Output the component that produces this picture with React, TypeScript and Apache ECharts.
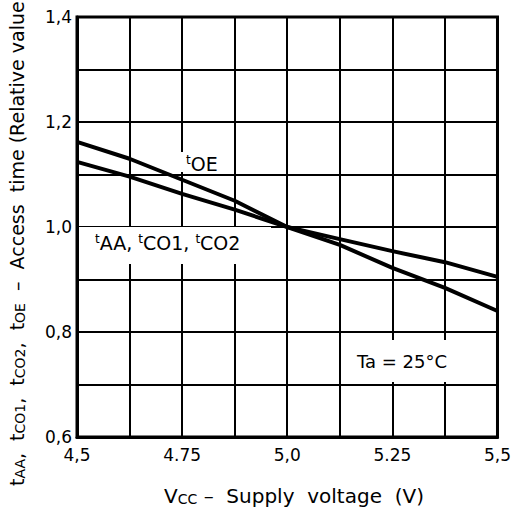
import React, { useEffect, useRef } from "react";
import * as echarts from "echarts";

const VOLTAGES = [4.5, 4.625, 4.75, 4.875, 5.0, 5.125, 5.25, 5.375, 5.5];
const T_OE = [1.162, 1.13, 1.09, 1.05, 1.0, 0.966, 0.922, 0.884, 0.84];
const T_AA = [1.124, 1.096, 1.063, 1.033, 1.0, 0.977, 0.954, 0.933, 0.905];

const X_TICKS = [4.5, 4.75, 5.0, 5.25, 5.5];
const X_TICK_LABELS = ["4,5", "4.75", "5,0", "5.25", "5,5"];
const Y_TICKS = [0.6, 0.8, 1.0, 1.2, 1.4];
const Y_TICK_LABELS = ["0,6", "0,8", "1,0", "1,2", "1,4"];

const FONT = "DejaVu Sans, Liberation Sans, sans-serif";

function lookup(v: number, ticks: number[], labels: string[]) {
  for (let i = 0; i < ticks.length; i++) {
    if (Math.abs(v - ticks[i]) < 1e-6) return labels[i];
  }
  return "";
}

export default function App() {
  const ref = useRef<HTMLDivElement>(null);
  useEffect(() => {
    if (!ref.current) return;
    const chart = echarts.init(ref.current, null, { renderer: "svg" });
    const big = { fontSize: 19, fontFamily: FONT, color: "#000", verticalAlign: "bottom" as const };
    const small = { fontSize: 14, fontFamily: FONT, color: "#000", verticalAlign: "bottom" as const };
    const xbig = { fontSize: 20, fontFamily: FONT, color: "#000", verticalAlign: "bottom" as const };
    const lbl = { fontSize: 19, fontFamily: FONT, color: "#000", verticalAlign: "top" as const };
    const sup = { fontSize: 12, fontFamily: FONT, color: "#000", verticalAlign: "top" as const };
    chart.setOption({
      animation: false,
      backgroundColor: "#fff",
      grid: {
        left: 77,
        right: 14,
        top: 17,
        bottom: 71,
        show: true,
        borderColor: "#000",
        borderWidth: 3,
        backgroundColor: "transparent",
      },
      xAxis: {
        type: "value",
        min: 4.5,
        max: 5.5,
        interval: 0.125,
        axisLine: { show: true, lineStyle: { color: "#000", width: 3 } },
        axisTick: { show: false },
        splitLine: { show: true, lineStyle: { color: "#000", width: 2 } },
        axisLabel: {
          margin: 9,
          color: "#000",
          fontSize: 17,
          fontFamily: FONT,
          formatter: (v: number) => lookup(v, X_TICKS, X_TICK_LABELS),
        },
      },
      yAxis: {
        type: "value",
        min: 0.6,
        max: 1.4,
        interval: 0.1,
        axisLine: { show: true, lineStyle: { color: "#000", width: 3 } },
        axisTick: { show: false },
        splitLine: { show: true, lineStyle: { color: "#000", width: 2 } },
        axisLabel: {
          margin: 5,
          color: "#000",
          fontSize: 17,
          fontFamily: FONT,
          formatter: (v: number) => lookup(v, Y_TICKS, Y_TICK_LABELS),
        },
      },
      series: [
        {
          name: "tOE",
          type: "line",
          data: VOLTAGES.map((v, i) => [v, T_OE[i]]),
          showSymbol: false,
          lineStyle: { color: "#000", width: 4 },
          z: 5,
        },
        {
          name: "tAA",
          type: "line",
          data: VOLTAGES.map((v, i) => [v, T_AA[i]]),
          showSymbol: false,
          lineStyle: { color: "#000", width: 4 },
          z: 5,
        },
      ],
      graphic: [
        {
          type: "text",
          x: 17,
          y: 486,
          rotation: Math.PI / 2,
          z: 50,
          style: {
            text:
              "{b|t}{s|AA}{b|,  t}{s|CO1}{b|,  t}{s|CO2}{b|,  t}{s|OE}{b|  –  Access  time (Relative value)}",
            rich: { b: big, s: small },
            align: "left",
            verticalAlign: "middle",
          },
        },
        {
          type: "text",
          x: 294,
          y: 496,
          z: 50,
          style: {
            text: "{b|V}{s|CC}{b| –  Supply  voltage  (V)}",
            rich: { b: xbig, s: small },
            align: "center",
            verticalAlign: "middle",
          },
        },
        {
          type: "rect",
          z: 40,
          shape: { x: 180, y: 152, width: 51, height: 20 },
          style: { fill: "#fff" },
        },
        {
          type: "text",
          x: 186,
          y: 154,
          z: 50,
          style: {
            text: "{t|t}{n|OE}",
            rich: { t: sup, n: lbl },
            align: "left",
            verticalAlign: "top",
          },
        },
        {
          type: "rect",
          z: 40,
          shape: { x: 79, y: 227, width: 192, height: 37 },
          style: { fill: "#fff" },
        },
        {
          type: "text",
          x: 95,
          y: 233,
          z: 50,
          style: {
            text: "{t|t}{n|AA, }{t|t}{n|CO1, }{t|t}{n|CO2}",
            rich: { t: sup, n: lbl },
            align: "left",
            verticalAlign: "top",
          },
        },
        {
          type: "rect",
          z: 40,
          shape: { x: 352, y: 340, width: 100, height: 42 },
          style: { fill: "#fff" },
        },
        {
          type: "text",
          x: 357,
          y: 361,
          z: 50,
          style: {
            text: "Ta = 25°C",
            fontSize: 18,
            fontFamily: FONT,
            fill: "#000",
            align: "left",
            verticalAlign: "middle",
          },
        },
      ],
    });
    return () => chart.dispose();
  }, []);
  return (
    <div
      ref={ref}
      style={{ position: "absolute", left: 0, top: 0, width: 514, height: 508 }}
    />
  );
}
